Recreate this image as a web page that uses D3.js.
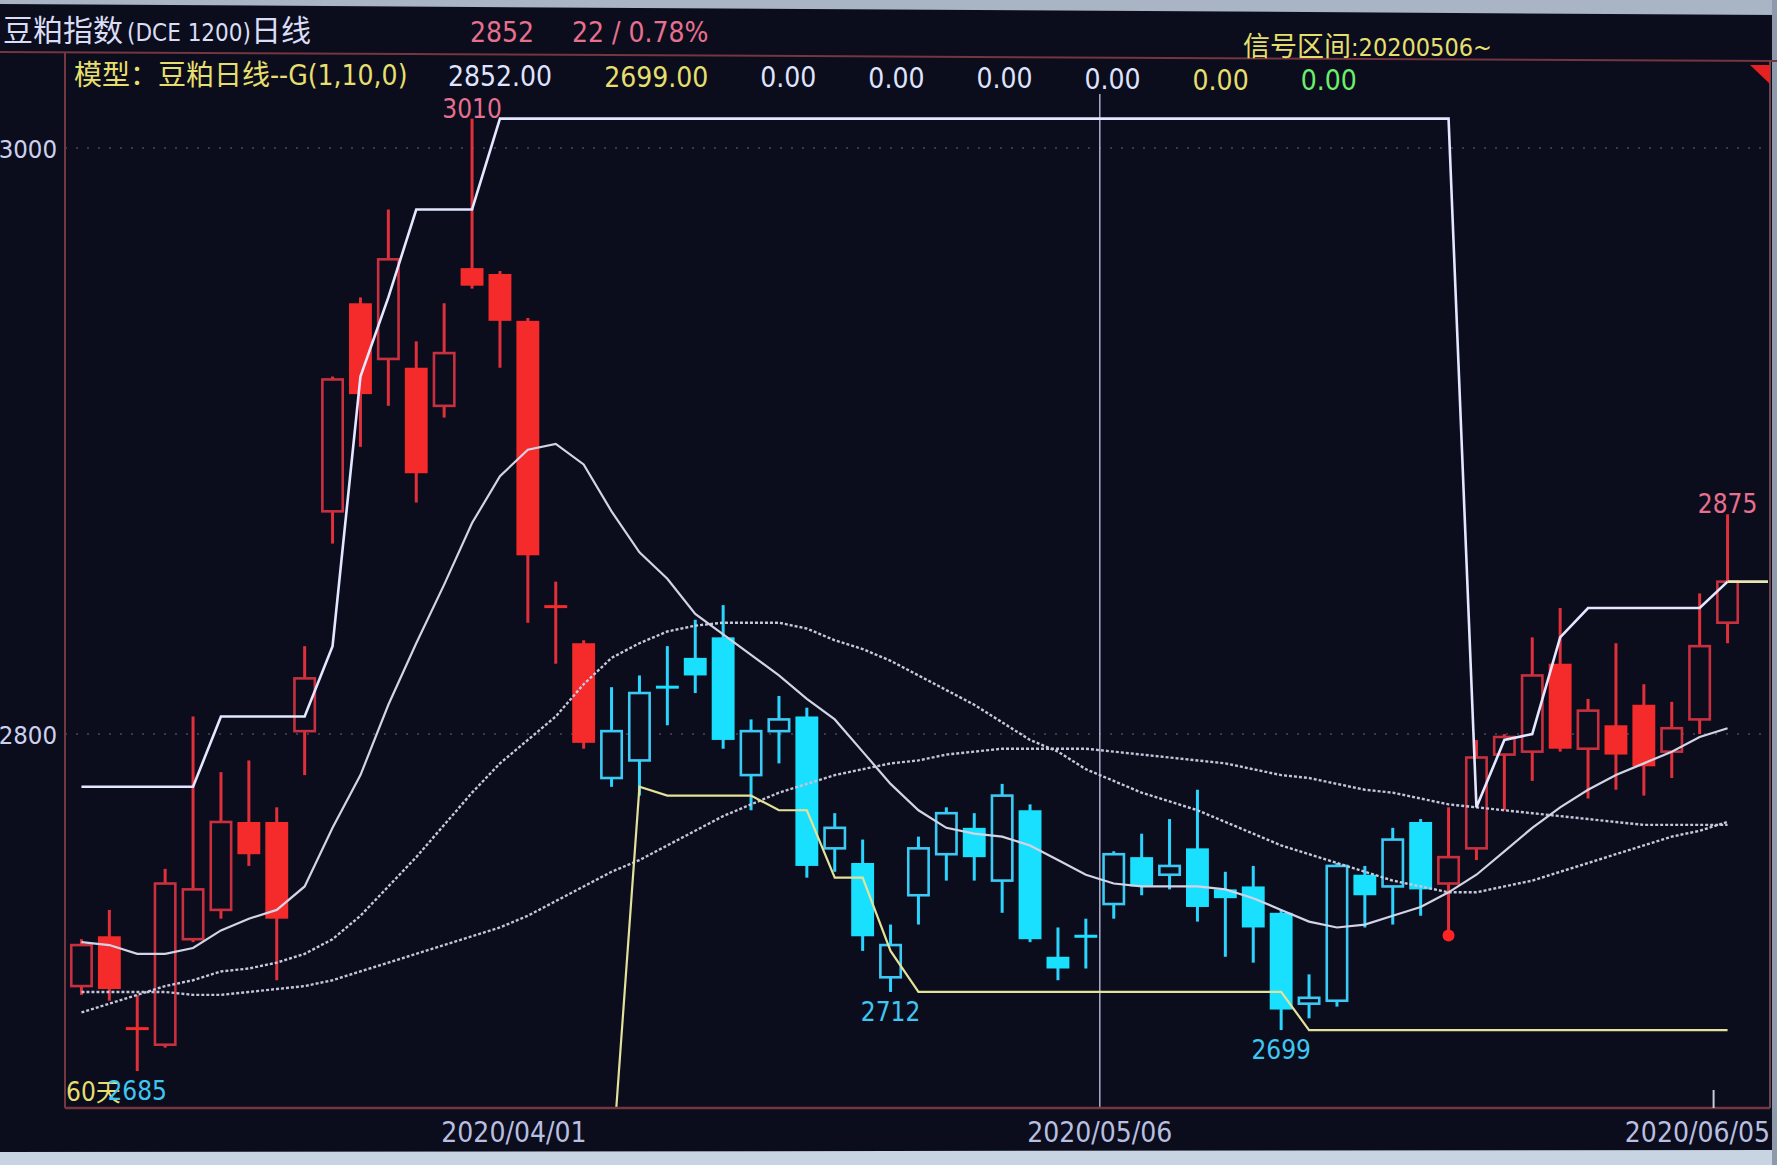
<!DOCTYPE html>
<html>
<head>
<meta charset="utf-8">
<script src="https://cdn.jsdelivr.net/npm/d3@7"></script>
<style>
body { margin: 0; background: #0b0d1c; overflow: hidden; }
svg { display: block; }
.num { font-family: "DejaVu Sans Condensed", "DejaVu Sans", sans-serif; font-stretch: condensed; }
.cjk { font-family: "Noto Sans CJK SC", sans-serif; }
</style>
</head>
<body>
<svg width="1777" height="1165"></svg>
<script>
var dates = [
    "2020/03/10", "2020/03/11", "2020/03/12", "2020/03/13", "2020/03/16", "2020/03/17", "2020/03/18", "2020/03/19",
    "2020/03/20", "2020/03/23", "2020/03/24", "2020/03/25", "2020/03/26", "2020/03/27", "2020/03/30", "2020/03/31",
    "2020/04/01", "2020/04/02", "2020/04/03", "2020/04/07", "2020/04/08", "2020/04/09", "2020/04/10", "2020/04/13",
    "2020/04/14", "2020/04/15", "2020/04/16", "2020/04/17", "2020/04/20", "2020/04/21", "2020/04/22", "2020/04/23",
    "2020/04/24", "2020/04/27", "2020/04/28", "2020/04/29", "2020/04/30",
    "2020/05/06", "2020/05/07", "2020/05/08", "2020/05/11", "2020/05/12", "2020/05/13", "2020/05/14", "2020/05/15",
    "2020/05/18", "2020/05/19", "2020/05/20", "2020/05/21", "2020/05/22", "2020/05/25", "2020/05/26", "2020/05/27",
    "2020/05/28", "2020/05/29",
    "2020/06/01", "2020/06/02", "2020/06/03", "2020/06/04", "2020/06/05"
];

var open = [2714, 2731, 2700, 2694, 2730, 2740, 2770, 2770, 2801, 2876, 2947, 2928, 2925, 2912, 2959, 2957, 2941, 2844, 2831, 2785,
    2791, 2816, 2826, 2833, 2786, 2801, 2806, 2761, 2756, 2717, 2745, 2759, 2768, 2750, 2774, 2724, 2731, 2742, 2758, 2752,
    2761, 2747, 2748, 2739, 2708, 2709, 2752, 2748, 2770, 2749, 2761, 2793, 2794, 2824, 2795, 2803, 2810, 2794, 2805, 2838];
var high = [2730, 2740, 2711, 2754, 2806, 2787, 2791, 2775, 2830, 2922, 2949, 2979, 2934, 2947, 3010, 2958, 2942, 2852, 2832, 2816,
    2820, 2830, 2839, 2844, 2805, 2813, 2809, 2773, 2764, 2735, 2765, 2775, 2773, 2783, 2776, 2734, 2737, 2760, 2766, 2771,
    2781, 2753, 2755, 2740, 2718, 2756, 2755, 2768, 2771, 2775, 2798, 2800, 2833, 2843, 2812, 2831, 2817, 2811, 2848, 2875];
var low = [2711, 2709, 2685, 2693, 2729, 2737, 2755, 2716, 2786, 2865, 2898, 2912, 2879, 2908, 2952, 2925, 2838, 2824, 2795, 2782,
    2779, 2803, 2814, 2795, 2774, 2790, 2751, 2753, 2726, 2712, 2735, 2750, 2750, 2739, 2729, 2716, 2720, 2737, 2745, 2747,
    2736, 2724, 2722, 2699, 2703, 2707, 2734, 2735, 2738, 2733, 2757, 2774, 2784, 2794, 2778, 2781, 2779, 2785, 2800, 2831];
var close = [2728, 2713, 2699, 2749, 2747, 2770, 2759, 2737, 2819, 2921, 2916, 2962, 2889, 2930, 2953, 2941, 2861, 2843, 2797, 2801,
    2814, 2816, 2820, 2798, 2801, 2805, 2755, 2768, 2731, 2728, 2761, 2773, 2758, 2779, 2730, 2720, 2731, 2759, 2748, 2755,
    2741, 2744, 2734, 2706, 2710, 2755, 2745, 2764, 2747, 2758, 2792, 2799, 2820, 2795, 2808, 2793, 2789, 2802, 2830, 2852];

// model state per bar: L = long (red), S = short (cyan)
var side = ("LLLLLLLLLL" + "LLLLLLLLL" + "SSSSSSSSSS" + "SSSSSSSSSS" + "SSSSSSSSSS" + "LLLLLLLLLL" + "L").split("");

var ma10 = [2729, 2728, 2725, 2725, 2727, 2733, 2737, 2740, 2748, 2768, 2786, 2810, 2831, 2851, 2872, 2888, 2897, 2899, 2892, 2876,
    2862, 2853, 2841, 2834, 2827, 2820, 2812, 2805, 2794, 2783, 2774, 2768, 2766, 2765, 2762, 2757, 2752, 2749, 2748, 2748,
    2748, 2747, 2744, 2740, 2736, 2734, 2735, 2738, 2741, 2746, 2752, 2760, 2768, 2775, 2781, 2786, 2790, 2794, 2799, 2802];
var ma20 = [2705, 2708, 2711, 2714, 2716, 2719, 2720, 2722, 2725, 2730, 2738, 2748, 2758, 2769, 2780, 2790, 2798, 2806, 2817, 2826,
    2831, 2835, 2837, 2838, 2838, 2838, 2836, 2832, 2829, 2825, 2820, 2815, 2810, 2804, 2798, 2794, 2788, 2784, 2780, 2777,
    2774, 2770, 2766, 2762, 2759, 2756, 2753, 2750, 2748, 2746, 2746, 2748, 2750, 2753, 2756, 2759, 2762, 2765, 2767, 2770];
var ma40 = [2712, 2712, 2712, 2712, 2711, 2711, 2712, 2713, 2714, 2716, 2719, 2722, 2725, 2728, 2731, 2734, 2738, 2743, 2748, 2753,
    2757, 2762, 2767, 2772, 2776, 2780, 2783, 2786, 2788, 2790, 2791, 2793, 2794, 2795, 2795, 2795, 2795, 2794, 2793, 2792,
    2791, 2790, 2788, 2786, 2785, 2783, 2781, 2780, 2778, 2776, 2775, 2774, 2773, 2772, 2771, 2770, 2769, 2769, 2769, 2769];

// channel lines of the model (white = upper, yellow = lower)
var upper = [2782, 2782, 2782, 2782, 2782, 2806, 2806, 2806, 2806, 2830, 2922, 2949, 2979, 2979, 2979,
    3010, 3010, 3010, 3010, 3010, 3010, 3010, 3010, 3010, 3010, 3010, 3010, 3010, 3010, 3010, 3010, 3010, 3010, 3010, 3010,
    3010, 3010, 3010, 3010, 3010, 3010, 3010, 3010, 3010, 3010, 3010, 3010, 3010, 3010, 3010,
    2775, 2798, 2800, 2833, 2843, 2843, 2843, 2843, 2843, 2852];
var lower = [null, null, null, null, null, null, null, null, null, null, null, null, null, null, null, null, null, null, null,
    2650, 2782, 2779, 2779, 2779, 2779, 2774, 2774, 2751, 2751, 2726,
    2712, 2712, 2712, 2712, 2712, 2712, 2712, 2712, 2712, 2712, 2712, 2712, 2712, 2712,
    2699, 2699, 2699, 2699, 2699, 2699, 2699, 2699, 2699, 2699, 2699, 2699, 2699, 2699, 2699, 2699];

var priceTicks = [2800, 3000];
var dateTicks = ["2020/04/01", "2020/05/06", "2020/06/05"];
var signalStart = "2020/05/06";
var buySignal = "2020/05/22";
var highMarks = ["2020/03/30", "2020/06/05"];
var lowMarks = ["2020/03/12", "2020/04/21", "2020/05/14"];
var modelValues = ["2852.00", "2699.00", "0.00", "0.00", "0.00", "0.00", "0.00", "0.00"];

var svg = d3.select("svg"),
    width = +svg.attr("width"),
    height = +svg.attr("height");

var plot = {left: 65, right: 1770, top: 53, bottom: 1108};

var red = "#f52a2a", redLine = "#c9303f", redWick = "#e0303a",
    cyan = "#1ae0ff", cyanLine = "#3ccaf5", cyanWick = "#2ad4ff",
    bg = "#0b0d1c", yellowText = "#e6df6e", pink = "#e6708e", lavender = "#cdd1ee";

var x = d3.scaleBand().domain(dates).range([67.5, 1741.5]);
var y = d3.scaleLinear().domain([2672.4, 3032.4]).range([plot.bottom, plot.top]);
var cx = function (d) { return x(d) + x.bandwidth() / 2; };

// photo bezel
svg.append("polygon").attr("points", "0,0 " + width + ",0 " + width + ",15 0,4").attr("fill", "#a9b5c4");
svg.append("polygon").attr("points", "0,1152 " + width + ",1150 " + width + "," + height + " 0," + height).attr("fill", "#c9d4e2");
svg.append("rect").attr("x", 1772).attr("y", 0).attr("width", 5).attr("height", height).attr("fill", "#8e9aac");

svg.append("defs").append("clipPath").attr("id", "clip")
    .append("rect")
    .attr("x", plot.left).attr("y", plot.top)
    .attr("width", plot.right - plot.left).attr("height", plot.bottom - plot.top);

// dotted price grid
svg.append("g").selectAll("line").data(priceTicks).enter().append("line")
    .attr("x1", plot.left).attr("x2", plot.right)
    .attr("y1", function (d) { return y(d); })
    .attr("y2", function (d) { return y(d); })
    .attr("stroke", "#4c4458").attr("stroke-width", 1.5).attr("stroke-dasharray", "2 9");

svg.append("line")
    .attr("x1", x(signalStart)).attr("x2", x(signalStart))
    .attr("y1", 94).attr("y2", plot.bottom)
    .attr("stroke", "#a9add0").attr("stroke-width", 1.5);

// candles
var bw = x.bandwidth() * 0.82;
var candle = svg.append("g").selectAll("g").data(dates).enter().append("g")
    .attr("transform", function (d) { return "translate(" + cx(d) + ",0)"; });

candle.append("line")
    .attr("y1", function (d, i) { return y(high[i]); })
    .attr("y2", function (d, i) { return y(low[i]); })
    .attr("stroke", function (d, i) { return side[i] === "L" ? redWick : cyanWick; })
    .attr("stroke-width", 3);

candle.append("rect")
    .attr("x", function (d, i) { return close[i] > open[i] ? -bw / 2 + 1.25 : -bw / 2; })
    .attr("width", function (d, i) { return close[i] > open[i] ? bw - 2.5 : bw; })
    .attr("y", function (d, i) { return y(Math.max(open[i], close[i])) - (open[i] === close[i] ? 1.5 : 0); })
    .attr("height", function (d, i) { return Math.max(3, Math.abs(y(open[i]) - y(close[i]))); })
    .attr("fill", function (d, i) {
        if (close[i] > open[i]) return bg;
        return side[i] === "L" ? red : cyan;
    })
    .attr("stroke", function (d, i) {
        if (close[i] > open[i]) return side[i] === "L" ? redLine : cyanLine;
        return "none";
    })
    .attr("stroke-width", 2.6);

svg.append("circle")
    .attr("cx", cx(buySignal))
    .attr("cy", y(low[dates.indexOf(buySignal)]) + 5)
    .attr("r", 6)
    .attr("fill", "#ff2424");

// lines
var lines = svg.append("g").attr("clip-path", "url(#clip)").attr("fill", "none");

function series(values) {
    return d3.line()
        .defined(function (d) { return d != null; })
        .x(function (d, i) { return cx(dates[i]); })
        .y(function (d) { return y(d); })(values);
}

lines.append("path").attr("d", series(ma40)).attr("stroke", "#c2c4da").attr("stroke-width", 2.4).attr("stroke-dasharray", "3 2");
lines.append("path").attr("d", series(ma20)).attr("stroke", "#c6c8dc").attr("stroke-width", 2.4).attr("stroke-dasharray", "3 2");
lines.append("path").attr("d", series(ma10)).attr("stroke", "#d2d4e6").attr("stroke-width", 2.2);
lines.append("path").attr("d", series(lower)).attr("stroke", "#e2e29a").attr("stroke-width", 2.2);
lines.append("path").attr("d", series(upper)).attr("stroke", "#e3e7ff").attr("stroke-width", 2.6);
lines.append("line")
    .attr("x1", cx(dates[dates.length - 1])).attr("x2", plot.right - 2)
    .attr("y1", y(upper[upper.length - 1])).attr("y2", y(upper[upper.length - 1]))
    .attr("stroke", "#e6e6b2").attr("stroke-width", 2.6);

// extreme labels
svg.append("g").selectAll("text").data(highMarks).enter().append("text")
    .attr("class", "num")
    .attr("x", function (d) { return cx(d); })
    .attr("y", function (d) { return y(high[dates.indexOf(d)]) - 1; })
    .attr("text-anchor", "middle")
    .attr("font-size", 26)
    .attr("fill", pink)
    .text(function (d) { return high[dates.indexOf(d)]; });

var sixty = svg.append("text").attr("x", 66).attr("y", 1101).attr("fill", yellowText);
sixty.append("tspan").attr("class", "num").attr("font-size", 26).text("60");
sixty.append("tspan").attr("class", "cjk").attr("font-size", 25).text("天");

svg.append("g").selectAll("text").data(lowMarks).enter().append("text")
    .attr("class", "num")
    .attr("x", function (d) { return cx(d); })
    .attr("y", function (d) { return y(low[dates.indexOf(d)]) + 29; })
    .attr("text-anchor", "middle")
    .attr("font-size", 26)
    .attr("fill", "#3fc6f2")
    .text(function (d) { return low[dates.indexOf(d)]; });

// frame
var frame = "#74363f";
svg.append("line").attr("x1", 0).attr("y1", 52).attr("x2", width).attr("y2", 61).attr("stroke", frame).attr("stroke-width", 2);
svg.append("line").attr("x1", plot.left).attr("y1", 52).attr("x2", plot.left).attr("y2", plot.bottom).attr("stroke", frame).attr("stroke-width", 2);
svg.append("line").attr("x1", plot.left).attr("y1", plot.bottom).attr("x2", plot.right).attr("y2", plot.bottom).attr("stroke", frame).attr("stroke-width", 2.5);
svg.append("line").attr("x1", plot.right).attr("y1", 61).attr("x2", plot.right).attr("y2", plot.bottom).attr("stroke", "#6a4450").attr("stroke-width", 2);
svg.append("polygon").attr("points", "1750,65 1770,65 1770,84").attr("fill", "#e42222");

svg.append("line")
    .attr("x1", x(dates[dates.length - 1])).attr("x2", x(dates[dates.length - 1]))
    .attr("y1", 1090).attr("y2", plot.bottom)
    .attr("stroke", "#c8cadc").attr("stroke-width", 2);

// axes text
svg.append("g").selectAll("text").data(priceTicks).enter().append("text")
    .attr("class", "num")
    .attr("x", 57)
    .attr("y", function (d) { return y(d) + 10; })
    .attr("text-anchor", "end")
    .attr("font-size", 25.5)
    .attr("fill", lavender)
    .text(function (d) { return d; });

svg.append("g").selectAll("text").data(dateTicks).enter().append("text")
    .attr("class", "num")
    .attr("y", 1142)
    .attr("text-anchor", "middle")
    .attr("font-size", 28)
    .attr("fill", "#b9bfe0")
    .text(function (d) { return d; })
    .attr("x", function (d) {
        var w = this.getComputedTextLength();
        return Math.min(x(d), plot.right - w / 2);
    });

// header
var title = svg.append("text").attr("x", 3).attr("y", 41).attr("fill", "#d9ddf5");
title.append("tspan").attr("class", "cjk").attr("font-size", 30).text("豆粕指数");
title.append("tspan").attr("class", "num").attr("font-size", 24).attr("dx", 4).text("(DCE 1200)");
title.append("tspan").attr("class", "cjk").attr("font-size", 30).text("日线");

svg.append("text").attr("class", "num").attr("x", 470).attr("y", 42).attr("font-size", 28).attr("fill", pink).text("2852");
svg.append("text").attr("class", "num").attr("x", 572).attr("y", 42).attr("font-size", 28).attr("fill", pink).text("22 / 0.78%");

var model = svg.append("text").attr("x", 74).attr("y", 85).attr("fill", yellowText);
model.append("tspan").attr("class", "cjk").attr("font-size", 28).text("模型：豆粕日线");
model.append("tspan").attr("class", "num").attr("font-size", 28).text("--G(1,10,0)");

var valueColors = ["#dfe3ff", yellowText, "#dfe3ff", "#dfe3ff", "#dfe3ff", "#dfe3ff", yellowText, "#6cef6c"];
var cursor = 448;
modelValues.forEach(function (v, k) {
    var t = svg.append("text")
        .attr("class", "num")
        .attr("x", cursor)
        .attr("y", 86 + k * 0.6)
        .attr("font-size", 28)
        .attr("fill", valueColors[k])
        .text(v);
    cursor += t.node().getComputedTextLength() + 52;
});

var sig = svg.append("text").attr("x", 1243).attr("y", 56).attr("fill", yellowText);
sig.append("tspan").attr("class", "cjk").attr("font-size", 27).text("信号区间");
sig.append("tspan").attr("class", "num").attr("font-size", 25).text(":20200506~");
</script>
</body>
</html>
